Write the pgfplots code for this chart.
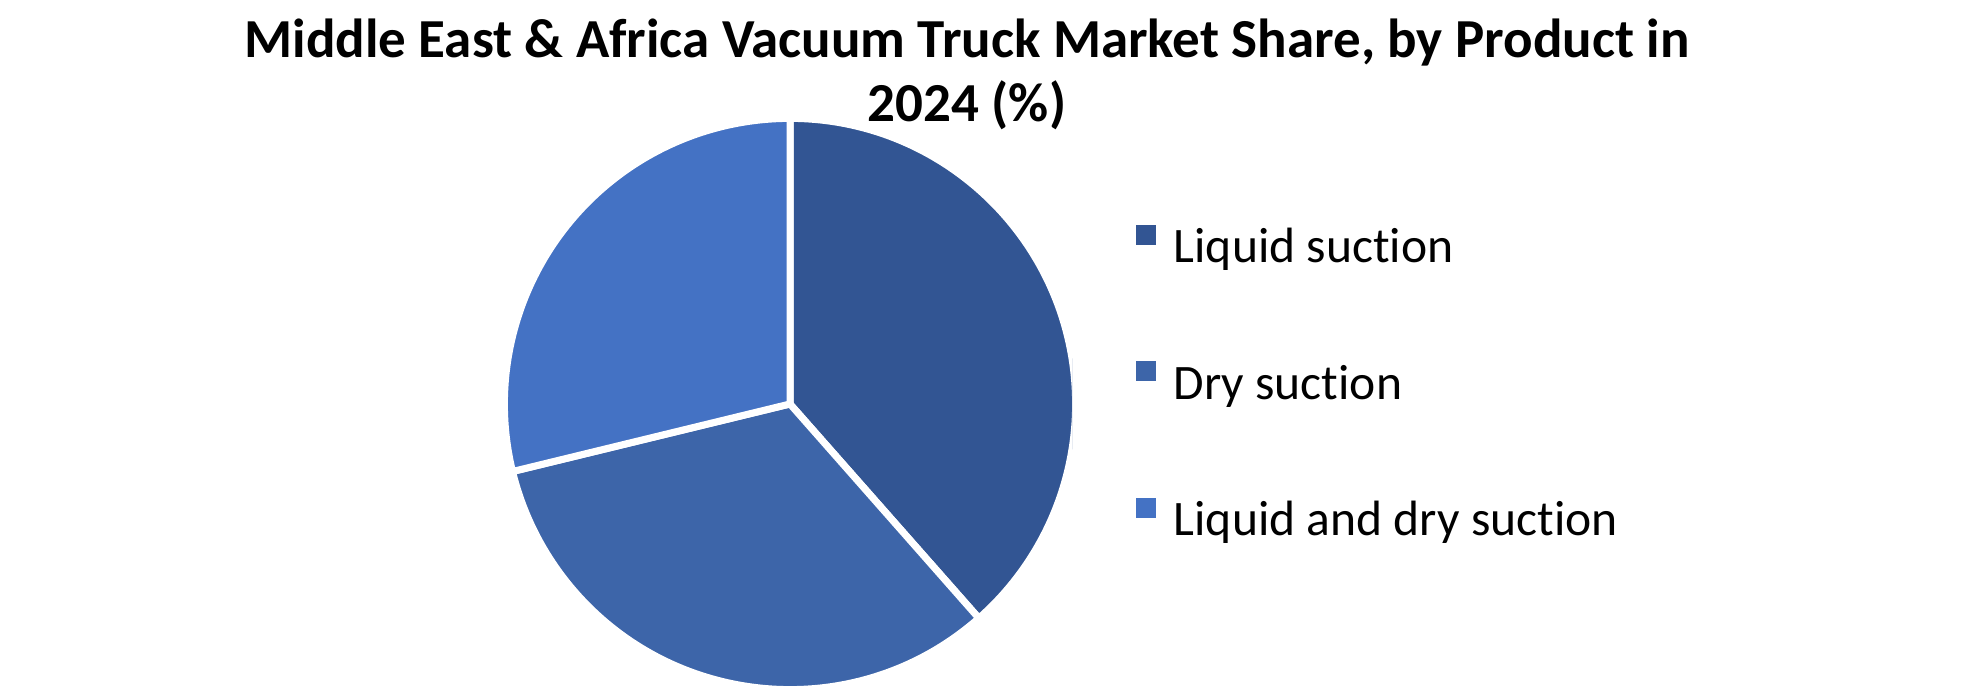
\documentclass[border=0pt]{standalone}
\usepackage{pgfplots}
\pgfplotsset{compat=1.18}
\usepackage{pgfplotstable}
\usepackage{fontspec}
\setmainfont{Carlito}[Ligatures=NoCommon]

\definecolor{liquid}{HTML}{325593}
\definecolor{dry}{HTML}{3D65A9}
\definecolor{both}{HTML}{4472C4}

% market share by product, %
\pgfplotstableread[col sep=comma]{
product,share
Liquid suction,38.5
Dry suction,32.7
Liquid and dry suction,28.8
}\sharetable

\pgfplotsset{
  sq legend/.style={legend image code/.code={\fill[##1, draw=none] (0pt,1.5pt) rectangle (5pt,6.5pt);}},
}

\begin{document}
\begin{tikzpicture}
\pgfplotstablegetelem{0}{share}\of\sharetable \let\va\pgfplotsretval
\pgfplotstablegetelem{1}{share}\of\sharetable \let\vb\pgfplotsretval
\pgfplotstablegetelem{2}{share}\of\sharetable \let\vc\pgfplotsretval
\pgfmathsetmacro\aa{90-3.6*\va}
\pgfmathsetmacro\ab{\aa-3.6*\vb}
\pgfmathsetmacro\ac{\ab-3.6*\vc}
\def\R{71.4pt}

% canvas: 1980 x 694 px at 0.25pt per px
\path (0,0) rectangle (495pt,173.5pt);

\node[anchor=base, font=\bfseries\fontsize{13.75}{16}\selectfont] at (241.75pt,159pt)
  {Middle East \& Africa Vacuum Truck Market Share, by Product in};
\node[anchor=base, font=\bfseries\fontsize{13.75}{16}\selectfont] at (241.75pt,143pt)
  {2024 (\%)};

\begin{axis}[
  at={(197.5pt,72.5pt)}, anchor=center,
  scale only axis, width=141pt, height=141pt,
  xmin=-1, xmax=1, ymin=-1, ymax=1,
  hide axis,
  legend cell align=left,
  legend style={
    draw=none, fill=none,
    at={(1.1117,0.8191)}, anchor=north west,
    inner sep=0pt, row sep=21.6pt, column sep=4.5pt,
    font=\fontsize{12.4}{14}\selectfont,
    nodes={inner sep=0pt, text height=9pt, text depth=3pt},
  },
]
\addlegendimage{sq legend, fill=liquid}
\addlegendentry{Liquid suction}
\addlegendimage{sq legend, fill=dry}
\addlegendentry{Dry suction}
\addlegendimage{sq legend, fill=both}
\addlegendentry{Liquid and dry suction}

\fill[liquid, draw=white, line width=1.75pt, line join=round]
  (axis cs:0,0) -- ++(90:\R) arc[start angle=90, end angle=\aa, radius=\R] -- cycle;
\fill[dry, draw=white, line width=1.75pt, line join=round]
  (axis cs:0,0) -- ++(\aa:\R) arc[start angle=\aa, end angle=\ab, radius=\R] -- cycle;
\fill[both, draw=white, line width=1.75pt, line join=round]
  (axis cs:0,0) -- ++(\ab:\R) arc[start angle=\ab, end angle=\ac, radius=\R] -- cycle;
\end{axis}
\end{tikzpicture}
\end{document}
